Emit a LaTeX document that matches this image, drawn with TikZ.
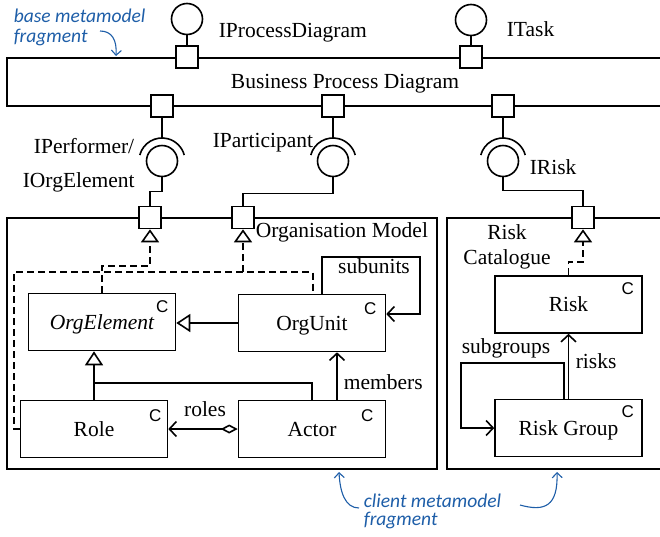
\documentclass[tikz,border=0pt]{standalone}
\usepackage{fontspec}
\setmainfont{Liberation Serif}
\newfontfamily\classmark{Liberation Sans}
\newfontfamily\notefont{Carlito}
\usetikzlibrary{arrows.meta,calc}
\definecolor{noteblue}{RGB}{30,94,168}
\begin{document}
\begin{tikzpicture}[x=1pt,y=-1pt,line width=1.6pt,
  txt/.style={font=\rmfamily\fontsize{21.5}{24}\selectfont, inner sep=0pt},
  port/.style={draw, fill=white, minimum size=22pt, inner sep=0pt},
  ball/.style={draw, circle, fill=white, minimum size=31pt, inner sep=0pt},
  cls/.style={draw, fill=white, minimum width=147pt, minimum height=57pt, inner sep=0pt,
    text height=14pt, text depth=0pt, font=\rmfamily\fontsize{21.5}{24}\selectfont},
  cmark/.style={font=\classmark\fontsize{17}{17}\selectfont, inner sep=0pt},
  dashline/.style={dash pattern=on 7pt off 4pt},
  real/.style={dashline, -{Triangle[open,length=13pt,width=18pt]}},
  gen/.style={-{Triangle[open,length=14pt,width=18pt]}},
  nav/.style={-{Straight Barb[length=7pt,width=15pt]}},
  note/.style={font=\notefont\itshape\fontsize{19.5}{21}\selectfont, text=noteblue, inner sep=0pt},
  notearrow/.style={draw=noteblue, line width=1.1pt, -{Straight Barb[length=5pt,width=10pt]}},
]
\useasboundingbox (0,0) rectangle (660,536);

% component frames
\draw (660,58) -- (7,58) -- (7,106) -- (660,106);
\draw (7,218) rectangle (437,469);
\draw (660,218) -- (447,218) -- (447,469) -- (660,469);

% ports of the Business Process Diagram
\node[port] (pPD) at (187,57) {};
\node[port] (pT) at (471,57) {};
\node[port] (pPerf) at (162,106) {};
\node[port] (pPart) at (333,106) {};
\node[port] (pRisk) at (503,106) {};
% ports of the client components
\node[port] (qOrg1) at (150,217.5) {};
\node[port] (qOrg2) at (243,217.5) {};
\node[port] (qRisk) at (583,217.5) {};

% provided interfaces
\node[ball] (iPD) at (187,19) {};
\node[ball] (iT) at (471,20) {};
\draw (iPD) -- (pPD);
\draw (iT) -- (pT);

% required / provided interface pairs
\node[ball] (rPerf) at (162,161) {};
\node[ball] (rPart) at (333,161) {};
\node[ball] (rRisk) at (503,161) {};
\foreach \b in {rPerf,rPart,rRisk}{
  \draw ([shift={(195:23)}]\b.center) arc[start angle=195,end angle=345,radius=23];
}
\draw (pPerf.south) -- ([yshift=23pt]rPerf.center);
\draw (pPart.south) -- ([yshift=23pt]rPart.center);
\draw (pRisk.south) -- ([yshift=23pt]rRisk.center);
\draw (rPerf.south) -- ++(0,14) -| (qOrg1.north);
\draw (rPart.south) -- ++(0,16) -| (qOrg2.north);
\draw (rRisk.south) -- ++(0,13) -| (qRisk.north);

% classes
\node[cls] (oe) at (102,322) {\itshape OrgElement};
\node[cls] (ou) at (312,323) {OrgUnit};
\node[cls] (role) at (94,429) {Role};
\node[cls] (actor) at (312,429) {Actor};
\node[cls] (risk) at (568.5,304.5) {Risk};
\node[cls] (rg) at (568.5,428) {Risk Group};
\node[cmark] (oeC) at ([xshift=-14pt,yshift=-14pt]oe.north east) {C};
\node[cmark] (ouC) at ([xshift=-16pt,yshift=-15pt]ou.north east) {C};
\node[cmark] (roleC) at ([xshift=-13pt,yshift=-16pt]role.north east) {C};
\node[cmark] (actorC) at ([xshift=-19pt,yshift=-16pt]actor.north east) {C};
\node[cmark] (riskC) at ([xshift=-15pt,yshift=-13pt]risk.north east) {C};
\node[cmark] (rgC) at ([xshift=-15pt,yshift=-13pt]rg.north east) {C};

% realisation of the exposed interfaces
\coordinate (j1) at (150,266);
\coordinate (dl) at (14,272);
\coordinate (j2) at (qOrg2 |- dl);
\coordinate (jrisk) at (583,262);
\draw[real] (oe.north) |- (j1) -- (qOrg1.south);
\draw[dashline] (role.west) -| (dl) -| ([xshift=75pt]ou.north west);
\draw[real] (j2) -- (qOrg2.south);
\draw[real] (risk.north) |- (jrisk) -- (qRisk.south);

% generalisations
\coordinate (jr) at (94,383);
\draw[gen] (ou.west) -- (ou.west -| oe.east);
\draw[gen] (role.north) -- (role.north |- oe.south);
\draw (actor.north) |- (jr);

% associations
\draw[nav] ([xshift=25pt]actor.north) -- ([xshift=25pt]ou.south);
\draw[{Diamond[open,length=17pt,width=9pt]}-{Straight Barb[length=7pt,width=15pt]}] (actor.west) -- (role.east);
\coordinate (su1) at (420,257);
\draw[nav] ([xshift=10pt]ou.north) |- (su1) |- ([yshift=9pt]ou.east);
\coordinate (sg1) at (461,363);
\draw[nav] (rg.north) -- (risk.south);
\draw[nav] ([xshift=-4.5pt]rg.north) |- (sg1) |- (rg.west);

% labels
\node[txt, anchor=base west] (lPD) at (218,37) {IProcessDiagram};
\node[txt, anchor=base west] (lT) at (506,36) {ITask};
\node[txt, anchor=base] (lBPD) at (345,88) {Business Process Diagram};
\node[txt, anchor=base east] (lPerf) at (135,153) {IPerformer/};
\node[txt, anchor=base west] (lOrgEl) at (22,187) {IOrgElement};
\node[txt, anchor=base west] (lPart) at (212,147) {IParticipant};
\node[txt, anchor=base west] (lRisk) at (529,174) {IRisk};
\node[txt, anchor=base west] (lOM) at (255,237) {Organisation Model};
\node[txt, anchor=base] (lRC1) at (507,239) {Risk};
\node[txt, anchor=base] (lRC2) at (507,264) {Catalogue};
\node[txt, anchor=base] (lsub) at (374,273) {subunits};
\node[txt, anchor=base west] (lmem) at (343,389) {members};
\node[txt, anchor=base] (lroles) at (205,416) {roles};
\node[txt, anchor=base] (lsg) at (506,353) {subgroups};
\node[txt, anchor=base west] (lrisks) at (575,368) {risks};

% annotations
\node[note, anchor=base west] (nb1) at (13,22) {base metamodel};
\node[note, anchor=base west] (nb2) at (13,42) {fragment};
\coordinate (nbTip) at (116,56);
\draw[notearrow] (100,31) .. controls (112,31) and (117,40) .. (nbTip);
\node[note, anchor=base west] (nc1) at (363,507) {client metamodel};
\node[note, anchor=base west] (nc2) at (363,525) {fragment};
\coordinate (ncTipL) at (339,472);
\coordinate (ncTipR) at (557,472);
\draw[notearrow] (359,508) .. controls (345,508) and (340,492) .. (ncTipL);
\draw[notearrow] (520,505) .. controls (545,512) and (558,506) .. (ncTipR);
\end{tikzpicture}
\end{document}
